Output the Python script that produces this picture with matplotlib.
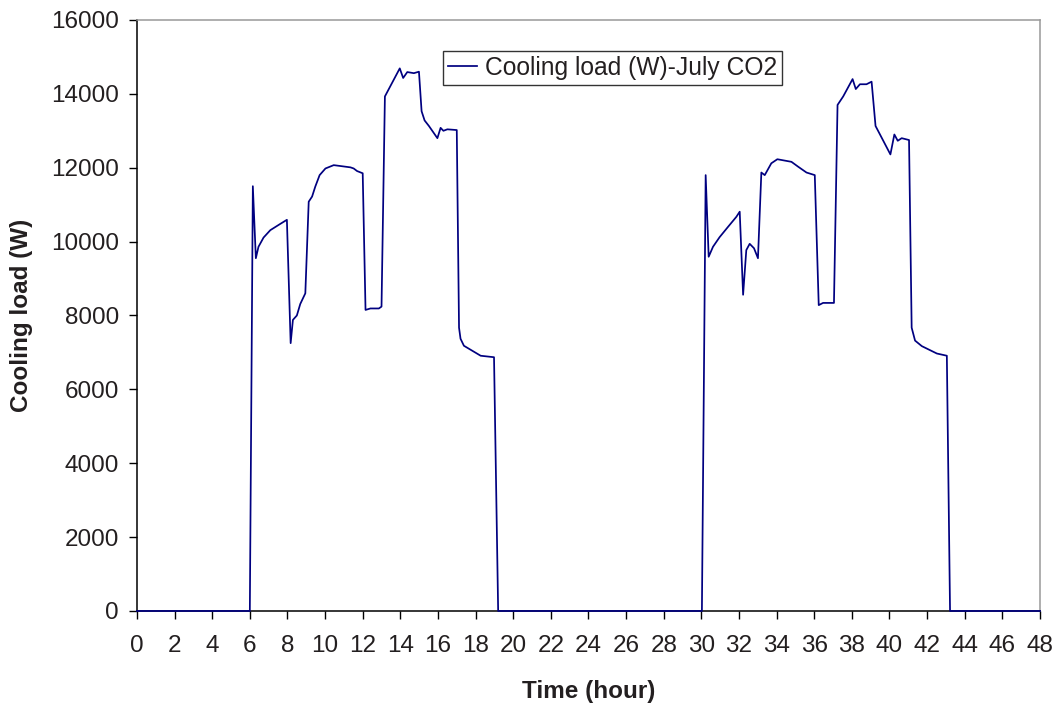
import matplotlib
matplotlib.use("Agg")
import matplotlib.pyplot as plt

# Hourly cooling load over two July days (W)
hours = [
    0.0, 6.0, 6.16, 6.32, 6.46, 6.73, 7.09, 7.62, 7.97,
    8.17, 8.29, 8.5, 8.68, 8.95, 9.13, 9.31, 9.48, 9.71, 10.02, 10.46,
    11.35, 11.52, 11.7, 12.0, 12.15, 12.41, 12.86, 13.0,
    13.18, 13.97, 14.15, 14.37, 14.72, 14.99, 15.13, 15.29, 15.52, 15.97,
    16.14, 16.29, 16.5, 17.0, 17.12, 17.2, 17.38, 18.27, 18.98, 19.2,
    30.03, 30.23, 30.39, 30.62, 30.97, 31.42, 31.86, 32.04, 32.22, 32.39,
    32.57, 32.8, 33.01, 33.19, 33.37, 33.72, 34.04, 34.79, 35.14, 35.59,
    36.03, 36.24, 36.47, 37.05, 37.24, 37.54, 38.04, 38.21, 38.43, 38.78,
    39.05, 39.26, 39.62, 40.05, 40.26, 40.44, 40.65, 41.04, 41.18, 41.36,
    41.72, 42.52, 43.05, 43.22, 48.0,
]
cooling_load = [
    0, 0, 11500, 9550, 9860, 10110, 10310, 10480, 10590,
    7250, 7880, 8000, 8310, 8600, 11080, 11220, 11490, 11800, 11980, 12070,
    12010, 11980, 11910, 11850, 8150, 8190, 8190, 8240,
    13930, 14690, 14430, 14590, 14560, 14600, 13530, 13280, 13130, 12800,
    13080, 13000, 13040, 13020, 7670, 7370, 7180, 6910, 6870, 0,
    0, 11800, 9590, 9860, 10120, 10400, 10670, 10810, 8560, 9770,
    9940, 9820, 9550, 11870, 11800, 12120, 12230, 12160, 12030, 11870,
    11800, 8280, 8340, 8340, 13700, 13930, 14400, 14130, 14260, 14260,
    14330, 13130, 12780, 12360, 12900, 12730, 12800, 12750, 7670, 7320,
    7170, 6970, 6910, 0, 0,
]
x_ticks = list(range(0, 49, 2))
y_ticks = list(range(0, 16001, 2000))
series_label = "Cooling load (W)-July CO2"

plt.rcParams["font.family"] = ["Liberation Sans", "DejaVu Sans"]

fig = plt.figure(figsize=(10.6, 7.06), dpi=100)
ax = fig.add_axes([0.1292, 0.1346, 0.8519, 0.8371])

ax.plot(hours, cooling_load, color="#000080", linewidth=1.25,
        label=series_label, zorder=5, clip_on=False)

ax.set_xlim(0, 48)
ax.set_ylim(0, 16000)
ax.set_xticks(x_ticks)
ax.set_yticks(y_ticks)

text_color = "#231f20"
ax.tick_params(axis="both", direction="out", length=5.5, width=1.0,
               colors="black", labelcolor=text_color, labelsize=17.5)
ax.tick_params(axis="x", pad=12)
ax.tick_params(axis="y", pad=7.5)

for side in ("left", "bottom"):
    ax.spines[side].set_color("black")
    ax.spines[side].set_linewidth(1.1)
for side in ("top", "right"):
    ax.spines[side].set_color("#999999")
    ax.spines[side].set_linewidth(1.1)

ax.set_xlabel("Time (hour)", fontsize=17.5, fontweight="bold",
              color=text_color, labelpad=16)
ax.set_ylabel("Cooling load (W)", fontsize=17.5, fontweight="bold",
              color=text_color, labelpad=13)

leg = ax.legend(loc="upper left", bbox_to_anchor=(443 / 1060, 1 - 51 / 706),
                bbox_transform=fig.transFigure, borderaxespad=0,
                fontsize=17.7, frameon=True, fancybox=False, shadow=False,
                handlelength=1.2, handletextpad=0.3, borderpad=0.2)
frame = leg.get_frame()
frame.set_edgecolor("black")
frame.set_linewidth(1.0)
for t in leg.get_texts():
    t.set_color(text_color)

fig.savefig("out.png", dpi=100)
